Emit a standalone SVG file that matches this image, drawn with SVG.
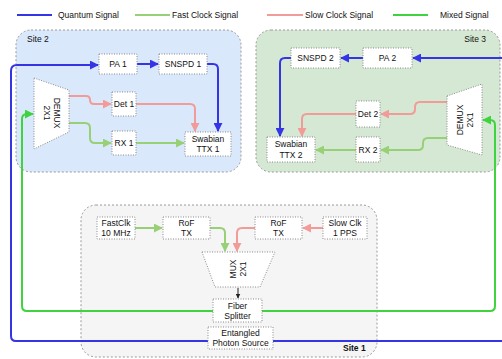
<svg xmlns="http://www.w3.org/2000/svg" width="502" height="359" viewBox="0 0 502 359">
<style>
text{font-family:"Liberation Sans",Arial,sans-serif;font-size:8.5px;fill:#111}
.c{text-anchor:middle}
.site{stroke:#9a9a9a;stroke-width:1;stroke-dasharray:2 2}
.box{fill:#fff;stroke:#8a8a8a;stroke-width:1;stroke-dasharray:1 1.5}
.q{fill:none;stroke:#3535e6;stroke-width:2}
.f{fill:none;stroke:#97d077;stroke-width:2}
.s{fill:none;stroke:#f19c99;stroke-width:2}
.m{fill:none;stroke:#3fd43f;stroke-width:2}
.k{fill:none;stroke:#222;stroke-width:1}
</style>
<defs>
<marker id="aq" viewBox="0 0 10 10" refX="9" refY="5" markerWidth="9" markerHeight="9" markerUnits="userSpaceOnUse" orient="auto"><path d="M0,0L10,5L0,10z" fill="#3535e6"/></marker>
<marker id="af" viewBox="0 0 10 10" refX="9" refY="5" markerWidth="9" markerHeight="9" markerUnits="userSpaceOnUse" orient="auto"><path d="M0,0L10,5L0,10z" fill="#97d077"/></marker>
<marker id="as" viewBox="0 0 10 10" refX="9" refY="5" markerWidth="9" markerHeight="9" markerUnits="userSpaceOnUse" orient="auto"><path d="M0,0L10,5L0,10z" fill="#f19c99"/></marker>
<marker id="am" viewBox="0 0 10 10" refX="9" refY="5" markerWidth="9" markerHeight="9" markerUnits="userSpaceOnUse" orient="auto"><path d="M0,0L10,5L0,10z" fill="#3fd43f"/></marker>
<marker id="ak" viewBox="0 0 10 10" refX="9" refY="5" markerWidth="5" markerHeight="5" markerUnits="userSpaceOnUse" orient="auto"><path d="M0,0L10,5L0,10z" fill="#222"/></marker>
</defs>
<rect width="502" height="359" fill="#fff"/>

<g id="legend">
<line x1="17" y1="15" x2="52" y2="15" class="q"/><text x="58" y="18">Quantum Signal</text>
<line x1="135" y1="15" x2="170" y2="15" class="f"/><text x="172" y="18">Fast Clock Signal</text>
<line x1="267" y1="15" x2="303" y2="15" class="s"/><text x="305" y="18">Slow Clock Signal</text>
<line x1="393" y1="15" x2="428" y2="15" class="m"/><text x="440" y="18">Mixed Signal</text>
</g>

<g id="site2">
<rect x="16" y="30" width="225" height="142" rx="15" fill="#dae8fc" class="site"/>
<text x="27" y="42">Site 2</text>
</g>
<g id="site3">
<rect x="256" y="30" width="244" height="142" rx="15" fill="#d5e8d4" class="site"/>
<text x="486" y="42" text-anchor="end">Site 3</text>
</g>
<g id="site1">
<rect x="81" y="205" width="296" height="152" rx="15" fill="#f5f5f5" class="site"/>
<text x="343" y="351" style="font-weight:bold">Site 1</text>
</g>

<g id="connectors">
<path d="M208,341H16Q11,341 11,336V71Q11,65 17,65H98" class="q" marker-end="url(#aq)"/>
<path d="M137,64H158" class="q" marker-end="url(#aq)"/>
<path d="M207,64H213Q218,64 218,69V131" class="q" marker-end="url(#aq)"/>
<path d="M69,96H86Q90,96 90,100Q90,104 94,104H111" class="s" marker-end="url(#as)"/>
<path d="M136,104H190Q195,104 195,109V131" class="s" marker-end="url(#as)"/>
<path d="M69,123H85Q90,123 90,128V138Q90,143 95,143H111" class="f" marker-end="url(#af)"/>
<path d="M136,143H184" class="f" marker-end="url(#af)"/>
<path d="M213,311H27Q22,311 22,306V119Q22,114 27,114H33" class="m" marker-end="url(#am)"/>
<path d="M502,58H413" class="q" marker-end="url(#aq)"/>
<path d="M363,58H341" class="q" marker-end="url(#aq)"/>
<path d="M291,58H285Q280,58 280,63V136" class="q" marker-end="url(#aq)"/>
<path d="M447,102H420Q415,102 415,107V109Q415,114 410,114H381" class="s" marker-end="url(#as)"/>
<path d="M356,114H307Q302,114 302,119V136" class="s" marker-end="url(#as)"/>
<path d="M447,138H428Q423,138 423,143V145Q423,150 418,150H381" class="f" marker-end="url(#af)"/>
<path d="M356,150H316" class="f" marker-end="url(#af)"/>
<path d="M262,311H490Q495,311 495,306V125Q495,120 490,120H483" class="m" marker-end="url(#am)"/>
<path d="M273,341H502" class="q"/>
<path d="M135,228H162" class="f" marker-end="url(#af)"/>
<path d="M210,228H220Q225,228 225,233V251" class="f" marker-end="url(#af)"/>
<path d="M323,228H303" class="s" marker-end="url(#as)"/>
<path d="M255,228H242Q237,228 237,233V251" class="s" marker-end="url(#as)"/>
<path d="M238,288V298" class="k" marker-end="url(#ak)"/>
</g>

<g id="pa1"><rect x="99" y="54" width="38" height="20" class="box"/><text x="118" y="67" class="c">PA 1</text></g>
<g id="snspd1"><rect x="159" y="54" width="48" height="20" class="box"/><text x="183" y="67" class="c">SNSPD 1</text></g>
<g id="det1"><rect x="112" y="92" width="24" height="24" class="box"/><text x="124" y="107" class="c">Det 1</text></g>
<g id="rx1"><rect x="112" y="131" width="24" height="24" class="box"/><text x="124" y="146" class="c">RX 1</text></g>
<g id="ttx1"><rect x="185" y="132" width="46" height="24" class="box"/><text x="208" y="142" class="c">Swabian</text><text x="208" y="152" class="c">TTX 1</text></g>
<g id="demux1"><path d="M34,78L69,90V132L34,149Z" class="box"/><g transform="translate(52,113) rotate(90)"><text x="0" y="-2" class="c">DEMUX</text><text x="0" y="8" class="c">2X1</text></g></g>

<g id="snspd2"><rect x="291" y="48" width="49" height="20" class="box"/><text x="315.5" y="61" class="c">SNSPD 2</text></g>
<g id="pa2"><rect x="363" y="48" width="49" height="20" class="box"/><text x="387.5" y="61" class="c">PA 2</text></g>
<g id="det2"><rect x="356" y="101" width="24" height="26" class="box"/><text x="368" y="117" class="c">Det 2</text></g>
<g id="rx2"><rect x="356" y="137" width="24" height="25" class="box"/><text x="368" y="153" class="c">RX 2</text></g>
<g id="ttx2"><rect x="267" y="137" width="48" height="25" class="box"/><text x="291" y="147" class="c">Swabian</text><text x="291" y="158" class="c">TTX 2</text></g>
<g id="demux2"><path d="M447,96L482,84V155L447,145Z" class="box"/><g transform="translate(465,120) rotate(-90)"><text x="0" y="-2" class="c">DEMUX</text><text x="0" y="8" class="c">2X1</text></g></g>

<g id="fastclk"><rect x="97" y="217" width="38" height="22" class="box"/><text x="116" y="226" class="c">FastClk</text><text x="116" y="236" class="c">10 MHz</text></g>
<g id="roftx1"><rect x="163" y="217" width="47" height="22" class="box"/><text x="186.5" y="226" class="c">RoF</text><text x="186.5" y="236" class="c">TX</text></g>
<g id="roftx2"><rect x="255" y="217" width="47" height="22" class="box"/><text x="278.5" y="226" class="c">RoF</text><text x="278.5" y="236" class="c">TX</text></g>
<g id="slowclk"><rect x="323" y="217" width="44" height="22" class="box"/><text x="345" y="226" class="c">Slow Clk</text><text x="345" y="236" class="c">1 PPS</text></g>
<g id="mux"><path d="M202,252H275L260,287H215Z" class="box"/><g transform="translate(238,269) rotate(-90)"><text x="0" y="-2" class="c">MUX</text><text x="0" y="8" class="c">2X1</text></g></g>
<g id="splitter"><rect x="213" y="299" width="49" height="23" class="box"/><text x="237.5" y="309" class="c">Fiber</text><text x="237.5" y="319" class="c">Splitter</text></g>
<g id="source"><rect x="208" y="327" width="65" height="22" class="box"/><text x="240.5" y="336" class="c">Entangled</text><text x="240.5" y="346" class="c">Photon Source</text></g>
</svg>
